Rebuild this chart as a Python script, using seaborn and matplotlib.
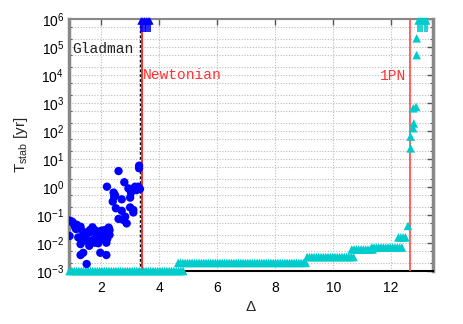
import numpy as np
import pandas as pd
import seaborn as sns
import matplotlib
matplotlib.use("Agg")
import matplotlib.pyplot as plt
from matplotlib.ticker import LogLocator, NullFormatter, FixedLocator

# Blue points (Newtonian runs): Delta and log10(T_stab)
blue_delta = [0.90, 1.03, 1.09, 0.90, 1.20, 1.28, 1.37, 1.20, 1.32, 1.43, 1.49, 1.60,
              1.69, 1.77, 1.89, 2.00, 2.11, 2.28, 2.28, 2.17, 2.06, 1.94, 1.83, 1.71,
              1.77, 1.89, 2.17, 1.58, 1.28, 1.37, 1.28, 1.96, 2.17, 1.49,
              0.95, 1.00, 1.12, 1.15, 1.40, 1.55, 1.65, 1.85, 2.05, 2.20, 1.95, 2.25,
              2.59, 2.19, 2.79, 2.93, 3.04, 3.16, 3.27, 3.33, 3.21, 2.42, 2.47, 2.70,
              2.39, 2.99, 2.50, 2.70, 2.99, 3.10, 3.10, 2.59, 2.82, 2.76, 2.87, 3.30,
              3.30, 3.02, 2.44, 3.12]
blue_logT = [-1.20, -1.30, -1.42, -1.75, -1.48, -1.42, -1.60, -1.80, -1.95, -1.83, -1.71, -1.54,
             -1.44, -1.54, -1.60, -1.56, -1.54, -1.54, -1.71, -1.77, -1.83, -1.89, -1.83, -1.89,
             -1.99, -2.01, -1.99, -2.10, -2.04, -2.35, -2.43, -2.35, -2.43, -2.75,
             -1.22, -1.25, -1.50, -1.35, -1.90, -1.95, -1.60, -1.70, -1.65, -1.85, -1.75, -1.45,
             0.57, 0.01, 0.17, -0.05, -0.11, 0.01, 0.01, -0.07, -0.11, -0.20, -0.29, -0.44,
             -0.52, -0.38, -0.76, -0.85, -0.73, -0.82, -0.91, -1.14, -1.06, -1.18, -1.30, 0.76,
             0.67, -0.20, -0.35, -0.05]
blue_stable = [3.37, 3.43, 3.49, 3.55, 3.61, 3.67]

# Cyan points (1PN runs): plateaus (start, end, log10 T) on the Delta grid
cyan_steps = [(0.90, 4.85, -3.0), (4.65, 9.05, -2.71), (9.10, 10.70, -2.50),
              (10.64, 11.43, -2.23), (11.33, 12.37, -2.16), (12.25, 12.55, -1.80)]
cyan_extra_delta = [12.58, 12.67, 12.67, 12.76, 12.78, 12.76, 12.86, 12.88, 12.88]
cyan_extra_logT = [-1.39, 1.38, 1.80, 2.10, 2.27, 2.81, 2.86, 4.71, 5.31]
cyan_stable = [12.93, 13.01, 13.08, 13.15, 13.22]

gladman_x = 3.33
newton_x = 3.39
pn_x = 12.64

grid_step = 0.08
cd, cl = [], []
for a, b, lv in cyan_steps:
    xs = np.arange(a, b + 1e-9, grid_step)
    cd += list(xs)
    cl += [lv] * len(xs)
cd += cyan_extra_delta
cl += cyan_extra_logT

blue_df = pd.DataFrame({"delta": blue_delta, "T": 10.0 ** np.array(blue_logT)})
cyan_df = pd.DataFrame({"delta": cd, "T": 10.0 ** np.array(cl)})

sns.set_style("white")
plt.rcParams["font.family"] = ["Liberation Sans", "DejaVu Sans"]
plt.rcParams["mathtext.fontset"] = "custom"
plt.rcParams["mathtext.rm"] = "Liberation Sans"
plt.rcParams["mathtext.it"] = "Liberation Sans:italic"
plt.rcParams["mathtext.bf"] = "Liberation Sans:bold"
plt.rcParams["axes.unicode_minus"] = False

fig = plt.figure(figsize=(4.63, 3.24), dpi=100)
ax = fig.add_axes([0.149, 0.1636, 0.786, 0.7778])

ax.set_yscale("log")
ax.set_xlim(0.88, 13.44)
ax.set_ylim(1e-3, 1e6)

# grid
ax.yaxis.set_major_locator(LogLocator(base=10, numticks=20))
ax.yaxis.set_minor_locator(LogLocator(base=10, subs=(2.0, 5.0), numticks=20))
ax.yaxis.set_minor_formatter(NullFormatter())
ax.xaxis.set_major_locator(FixedLocator([2, 4, 6, 8, 10, 12]))
ax.grid(True, which="major", color="#bbbbbb", linestyle=(0, (1, 1.5)), linewidth=0.8)
ax.grid(True, which="minor", axis="y", color="#bbbbbb", linestyle=(0, (1, 1.5)), linewidth=0.8)

# vertical reference lines
ax.axvline(gladman_x, color="black", linestyle=(0, (2, 1.5)), linewidth=1.0, zorder=3)
ax.axvline(newton_x, color="#ee2020", linewidth=1.3, zorder=3)
ax.axvline(pn_x, color="#ff5555", linewidth=1.3, zorder=3)

sns.scatterplot(data=cyan_df, x="delta", y="T", marker="^", s=38, color="#00cccc",
                edgecolor="none", ax=ax, zorder=4, clip_on=False)
sns.scatterplot(data=blue_df, x="delta", y="T", marker="o", s=36, color="#0000ff",
                edgecolor="none", ax=ax, zorder=5)

# stable runs: upward arrows at the top edge
ax.vlines(blue_stable, 10 ** 5.55, 10 ** 5.95, color="#0000ff", linewidth=1.2, zorder=6)
ax.scatter(blue_stable, [10 ** 5.93] * len(blue_stable), marker="^", s=30,
           color="#0000ff", edgecolor="none", zorder=6, clip_on=False)
ax.vlines(cyan_stable, 10 ** 5.55, 10 ** 5.95, color="#00cccc", linewidth=1.2, zorder=6)
ax.scatter(cyan_stable, [10 ** 5.93] * len(cyan_stable), marker="^", s=30,
           color="#00cccc", edgecolor="none", zorder=6, clip_on=False)

mono = ["Liberation Mono", "DejaVu Sans Mono"]
ax.text(0.99, 10 ** 4.92, "Gladman", family=mono, fontsize=10.5, color="#222222",
        va="center", ha="left", zorder=7)
ax.text(3.43, 10 ** 4.0, "Newtonian", family=mono, fontsize=10.5, color="#ff3333",
        va="center", ha="left", zorder=7)
ax.text(12.52, 10 ** 3.96, "1PN", family=mono, fontsize=10.5, color="#ff3333",
        va="center", ha="right", zorder=7)

ax.set_xlabel("Δ", fontsize=11, labelpad=4)
ax.set_ylabel(r"T$_{\rm stab}$ [yr]", fontsize=11, labelpad=4)

ax.tick_params(axis="both", which="major", direction="in", length=4, width=1,
               top=True, right=True, labelsize=10, colors="#555555", labelcolor="black")
ax.tick_params(axis="y", which="minor", direction="in", length=2, width=0.8,
               left=True, right=True, colors="#555555")
ax.tick_params(axis="x", pad=7)

for side in ["left", "right"]:
    ax.spines[side].set_color("#888888")
    ax.spines[side].set_linewidth(2.5)
ax.spines["top"].set_color("#888888")
ax.spines["top"].set_linewidth(1.5)
ax.spines["bottom"].set_color("black")
ax.spines["bottom"].set_linewidth(1.5)
ax.set_axisbelow(True)

fig.savefig("out.png", dpi=100)
